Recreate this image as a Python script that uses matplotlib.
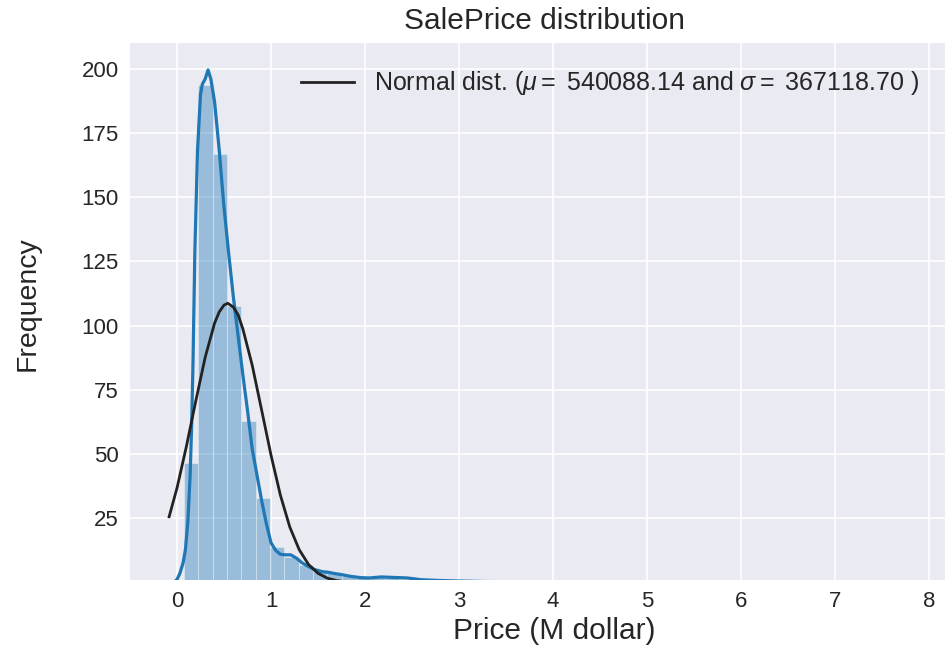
import numpy as np
import matplotlib
matplotlib.use("Agg")
import matplotlib.pyplot as plt

# ---- data (prices in millions of dollars, y = density * 100) ----
mu = 540088.14
sigma = 367118.70

bin_start = 0.075
bin_width = 0.1525
hist_heights = [46.5, 193.5, 166.8, 107.6, 63.0, 33.0, 13.9, 10.0, 7.0, 5.0,
                3.8, 2.5, 1.9, 2.0, 1.8, 1.5, 1.1, 0.9, 0.6, 0.5,
                0.3, 0.3, 0.2, 0.15, 0.1, 0.1, 0.1, 0.05, 0.05, 0.05,
                0.03, 0.03, 0.03, 0.0, 0.03, 0.0, 0.03, 0.0, 0.0, 0.03,
                0.0, 0.0, 0.0, 0.0, 0.0, 0.0, 0.0, 0.0, 0.0, 0.03]

kde_x = [-0.084, -0.03, 0.0, 0.03, 0.065, 0.09, 0.116, 0.14, 0.155, 0.17,
         0.19, 0.218, 0.25, 0.27, 0.30, 0.33, 0.36, 0.40, 0.45, 0.495,
         0.547, 0.60, 0.65, 0.70, 0.75, 0.80, 0.85, 0.90, 0.95, 1.00,
         1.05, 1.10, 1.15, 1.21, 1.27, 1.33, 1.40, 1.47, 1.55, 1.61,
         1.68, 1.75, 1.85, 1.96, 2.05, 2.17, 2.30, 2.45, 2.60, 2.80,
         3.00, 3.30, 3.60, 4.00, 4.50, 5.00, 5.50, 6.00, 7.00, 7.86]
kde_y = [0.0, 0.2, 1.2, 3.5, 7.7, 13.0, 24.0, 42.0, 60.0, 85.0,
         129.0, 168.0, 190.0, 194.0, 196.0, 199.5, 196.0, 187.0, 168.0, 148.0,
         129.0, 111.0, 96.0, 81.0, 67.0, 52.0, 42.0, 32.0, 23.0, 15.5,
         12.5, 11.0, 10.8, 10.8, 9.5, 7.7, 6.2, 5.0, 4.2, 4.0,
         3.5, 3.1, 2.4, 1.9, 1.8, 2.2, 2.0, 1.8, 1.1, 0.8,
         0.6, 0.4, 0.35, 0.2, 0.15, 0.1, 0.05, 0.05, 0.03, 0.0]

norm_x = [-0.084, 0.0, 0.1, 0.2, 0.3, 0.4, 0.45, 0.5, 0.54, 0.6, 0.65, 0.7, 0.8,
          0.9, 1.0, 1.1, 1.2, 1.3, 1.4, 1.5, 1.6, 1.7, 1.8, 1.9, 2.0,
          2.2, 2.5, 3.0, 4.0, 5.0, 6.0, 7.0, 7.86]
norm_y = [25.6, 36.8, 53.0, 70.7, 87.7, 101.0, 105.4, 108.0, 108.7, 107.2, 104.2, 98.8, 84.6,
          67.2, 49.6, 34.0, 21.6, 12.8, 7.0, 3.6, 1.7, 0.74, 0.30, 0.11, 0.04,
          0.0, 0.0, 0.0, 0.0, 0.0, 0.0, 0.0, 0.0]

yticks = [25, 50, 75, 100, 125, 150, 175, 200]
xticks = [0, 1, 2, 3, 4, 5, 6, 7, 8]

# ---- style ----
plt.rcParams['font.family'] = ['Liberation Sans', 'DejaVu Sans']
plt.rcParams['mathtext.fontset'] = 'custom'
plt.rcParams['mathtext.rm'] = 'Liberation Sans'
plt.rcParams['mathtext.it'] = 'Liberation Sans:italic'
text_color = '#262626'

fig = plt.figure(figsize=(9.49, 6.49), dpi=100)
ax = fig.add_axes([130 / 949, 69 / 649, 815 / 949, 537 / 649])
ax.set_facecolor('#EAEAF2')
for s in ax.spines.values():
    s.set_visible(False)
ax.grid(True, color='white', linewidth=1.2)
ax.set_axisbelow(True)

blue = '#1f77b4'
left_edges = [bin_start + i * bin_width for i in range(len(hist_heights))]
ax.bar(left_edges, hist_heights, width=bin_width, align='edge',
       color=blue, alpha=0.4, edgecolor='white', linewidth=0.6)
ax.plot(kde_x, kde_y, color=blue, linewidth=2.3)
ax.plot(norm_x, norm_y, color='#222222', linewidth=2.0,
        label=r'Normal dist. ($\mu=$ {:.2f} and $\sigma=$ {:.2f} )'.format(mu, sigma))

ax.set_xlim(-0.5, 8.17)
ax.set_ylim(1.0, 210)
ax.set_xticks(xticks)
ax.set_xticklabels([str(t) for t in xticks])
ax.set_yticks(yticks)
ax.set_yticklabels([str(t) for t in yticks])
ax.tick_params(axis='both', length=0, labelsize=16, labelcolor=text_color, pad=8)

ax.set_xlabel('Price (M dollar)', fontsize=21.5, color=text_color)
ax.xaxis.set_label_coords(0.52, -0.068)
ax.set_ylabel('Frequency', fontsize=20.5, color=text_color)
ax.yaxis.set_label_coords(-0.11, 0.515)
ax.set_title('SalePrice distribution', fontsize=21.5, color=text_color, pad=10, x=0.509)

leg = ax.legend(loc='upper right', frameon=False, fontsize=18,
                handlelength=2.1, borderaxespad=0.65)
for t in leg.get_texts():
    t.set_color(text_color)

fig.savefig('out.png', dpi=100, facecolor='white')
